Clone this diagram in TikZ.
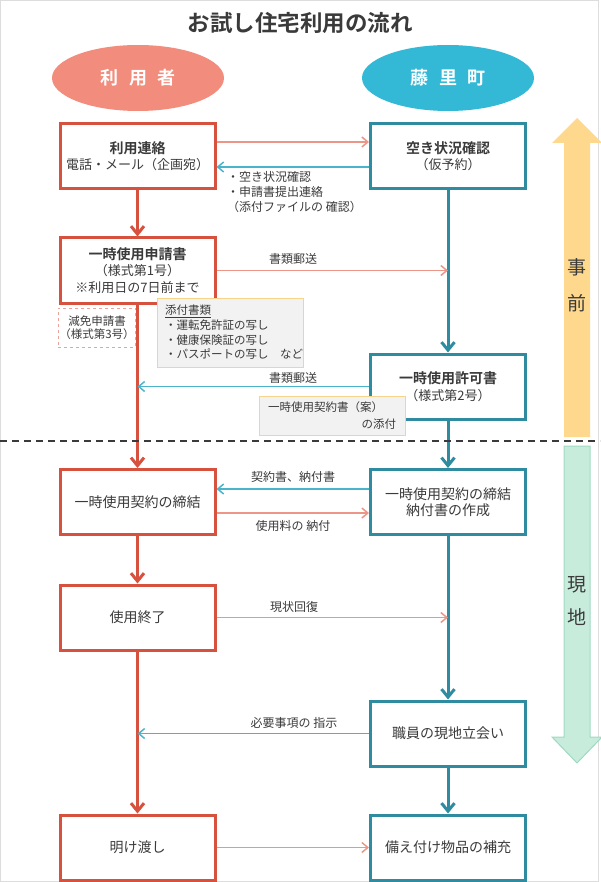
\documentclass[tikz,border=0pt]{standalone}
\usepackage{fontspec}
\setmainfont{Noto Sans CJK JP}[BoldFont={Noto Sans CJK JP Bold}]
\usetikzlibrary{arrows.meta,shapes.geometric}
\definecolor{ink}{HTML}{3A3A3A}
\definecolor{usrfill}{HTML}{F28C7C}
\definecolor{usrline}{HTML}{D6523E}
\definecolor{usrthin}{HTML}{EB9687}
\definecolor{townfill}{HTML}{33B9D6}
\definecolor{townline}{HTML}{2E8BA0}
\definecolor{townthin}{HTML}{4BB4CD}
\definecolor{prefill}{HTML}{FED88C}
\definecolor{sitefill}{HTML}{C8ECDC}
\definecolor{siteline}{HTML}{9FD9C2}
\definecolor{notefill}{HTML}{F2F2F2}
\definecolor{noteline}{HTML}{F6D48C}
\definecolor{genline}{HTML}{EBA29A}
\definecolor{framegray}{HTML}{DDDDDD}
\begin{document}
\begin{tikzpicture}[x=1pt,y=-1pt,
    usrbox/.style={draw=usrline,line width=3pt,fill=white,minimum width=155pt,minimum height=65pt,
      align=center,text=ink,font=\fontsize{14}{16.5}\selectfont},
    townbox/.style={usrbox,draw=townline},
    party/.style={ellipse,minimum width=172pt,minimum height=66pt,text=white,
      font=\fontsize{18}{18}\selectfont\bfseries},
    usrflow/.style={draw=usrline,line width=3pt,-{Straight Barb[length=8pt,width=13pt]}},
    townflow/.style={draw=townline,line width=3pt,-{Straight Barb[length=8pt,width=13pt]}},
    usrmsg/.style={draw=usrthin,line width=1.5pt,-{Straight Barb[length=6pt,width=10pt]}},
    townmsg/.style={draw=townthin,line width=1.5pt,-{Straight Barb[length=6pt,width=10pt]}},
    msglabel/.style={text=ink,font=\fontsize{12}{14}\selectfont},
    notebox/.style={draw=noteline,fill=notefill,line width=1pt,text=ink,align=left,
      font=\fontsize{11.5}{14.7}\selectfont,inner xsep=8pt}]
  \useasboundingbox (0,0) rectangle (600,882);
  \draw[framegray,line width=1pt] (0.5,0.5) rectangle (598.5,881.5);

  % phase arrows on the right
  \fill[prefill] (564,437) -- (564,143) -- (552,143) -- (577,118) -- (602,143) -- (590,143) -- (590,437) -- cycle;
  \filldraw[fill=sitefill,draw=siteline,line width=1pt] (564,446) -- (590,446) -- (590,737) -- (602,737)
    -- (577,763) -- (552,737) -- (564,737) -- cycle;
  \node[text=ink,align=center,font=\fontsize{19}{36}\selectfont] (pre) at (577,285) {事\\前};
  \node[text=ink,align=center,font=\fontsize{19}{33}\selectfont] (onsite) at (577,601) {現\\地};

  \node[text=ink,font=\fontsize{22.5}{22.5}\selectfont\bfseries] (title) at (300,23) {お試し住宅利用の流れ};
  \node[party,fill=usrfill] (usr) at (138,78) {利\hspace{0.6em}用\hspace{0.6em}者};
  \node[party,fill=townfill] (town) at (448,78) {藤\hspace{0.6em}里\hspace{0.6em}町};

  % boxes
  \node[usrbox] (contact) at (137.5,156) {{\bfseries 利用連絡}\\{\fontsize{13}{16}\selectfont 電話・メール（企画宛）}};
  \node[townbox] (vacancy) at (448,156) {{\bfseries 空き状況確認}\\{\fontsize{13}{16}\selectfont （仮予約）}};
  \node[usrbox] (apply) at (137.5,270.5) {{\bfseries 一時使用申請書}\\{\fontsize{13}{17}\selectfont （様式第1号）}\\
    {\fontsize{13}{17}\selectfont ※利用日の7日前まで}};
  \node[townbox] (permit) at (448,386.5) {{\bfseries 一時使用許可書}\\{\fontsize{13}{16}\selectfont （様式第2号）}};
  \node[usrbox] (sign) at (137.5,502) {一時使用契約の締結};
  \node[townbox] (issue) at (448,502) {一時使用契約の締結\\納付書の作成};
  \node[usrbox] (finish) at (137.5,617.5) {使用終了};
  \node[townbox] (visit) at (448,733.5) {職員の現地立会い};
  \node[usrbox] (handover) at (137.5,847.5) {明け渡し};
  \node[townbox] (refill) at (448,847.5) {備え付け物品の補充};

  % notes
  \node[draw=genline,dashed,line width=1pt,minimum width=76pt,minimum height=39pt,inner sep=1pt,
    align=center,text=ink,font=\fontsize{11.5}{13.5}\selectfont] (genmen) at (97,327.5) {減免申請書\\（様式第3号）};
  \node[notebox,text width=130pt,minimum height=69pt] (attach) at (230,332.5)
    {\underline{添付書類}\\・運転免許証の写し\\・健康保険証の写し\\・パスポートの写し　など};
  \node[notebox,text width=128pt,minimum height=39pt,inner xsep=9pt,font=\fontsize{11.5}{17}\selectfont] (draft) at (332,415.5)
    {一時使用契約書（案）\\\hspace*{\fill}の添付};

  % main flow
  \draw[usrflow] (contact) -- (apply);
  \draw[usrflow] (apply) -- (sign);
  \draw[usrflow] (sign) -- (finish);
  \draw[usrflow] (finish) -- (handover);
  \draw[townflow] (vacancy) -- (permit);
  \draw[townflow] (permit) -- (issue);
  \draw[townflow] (issue) -- (visit);
  \draw[townflow] (visit) -- (refill);

  % messages
  \draw[usrmsg] ([yshift=14pt]contact.east) -- ([yshift=14pt]vacancy.west);
  \draw[townmsg] ([yshift=-11pt]vacancy.west) -- ([yshift=-11pt]contact.east);
  \node[anchor=north west,inner sep=0pt,align=left,text=ink,font=\fontsize{12}{15}\selectfont] (replies) at (227,171)
    {・空き状況確認\\・申請書提出連絡\\（添付ファイルの 確認）};
  \draw[usrmsg] (apply.east) -- (vacancy.south |- apply.east);
  \node[msglabel] (send1) at (293,259) {書類郵送};
  \draw[townmsg] (permit.west) -- (apply.south |- permit.west);
  \node[msglabel] (send2) at (293,378) {書類郵送};
  \draw[townmsg] ([yshift=13pt]issue.west) -- ([yshift=13pt]sign.east);
  \node[msglabel] (papers) at (293,477) {契約書、納付書};
  \draw[usrmsg] ([yshift=-11pt]sign.east) -- ([yshift=-11pt]issue.west);
  \node[msglabel] (fee) at (293,526) {使用料の 納付};
  \draw[usrmsg] (finish.east) -- (issue.south |- finish.east);
  \node[msglabel] (restore) at (294,607) {現状回復};
  \draw[townmsg] (visit.west) -- (finish.south |- visit.west);
  \node[msglabel] (guide) at (294,723) {必要事項の 指示};
  \draw[usrmsg] (handover) -- (refill);

  % phase border
  \draw[ink,line width=1.5pt,dash pattern=on 7pt off 5pt] (0,441) -- (600,441);
\end{tikzpicture}
\end{document}
